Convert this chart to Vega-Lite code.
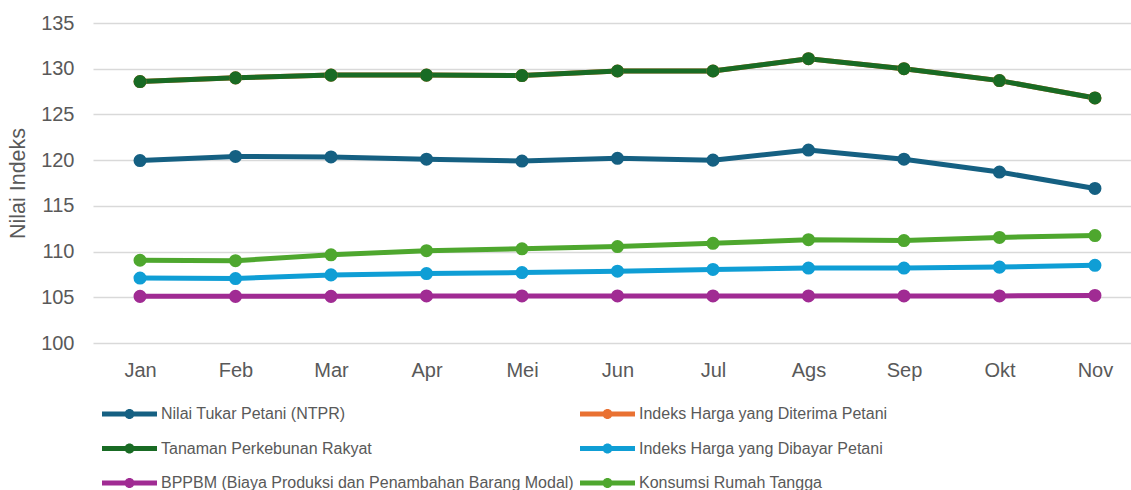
{
  "$schema": "https://vega.github.io/schema/vega-lite/v6.json",
  "width": 1038,
  "height": 320,
  "autosize": {"type": "none"},
  "padding": {"left": 93, "top": 23, "right": 0, "bottom": 147},
  "background": "white",
  "config": {
    "font": "Liberation Sans",
    "view": {"stroke": null}
  },
  "data": {
    "values": [
      {"Bulan": "Jan", "Nilai Tukar Petani (NTPR)": 119.95, "Indeks Harga yang Diterima Petani": 128.6, "Tanaman Perkebunan Rakyat": 128.6, "Indeks Harga yang Dibayar Petani": 107.1, "BPPBM (Biaya Produksi dan Penambahan Barang Modal)": 105.1, "Konsumsi Rumah Tangga": 109.05},
      {"Bulan": "Feb", "Nilai Tukar Petani (NTPR)": 120.4, "Indeks Harga yang Diterima Petani": 129.0, "Tanaman Perkebunan Rakyat": 129.0, "Indeks Harga yang Dibayar Petani": 107.05, "BPPBM (Biaya Produksi dan Penambahan Barang Modal)": 105.1, "Konsumsi Rumah Tangga": 109.0},
      {"Bulan": "Mar", "Nilai Tukar Petani (NTPR)": 120.35, "Indeks Harga yang Diterima Petani": 129.3, "Tanaman Perkebunan Rakyat": 129.3, "Indeks Harga yang Dibayar Petani": 107.45, "BPPBM (Biaya Produksi dan Penambahan Barang Modal)": 105.1, "Konsumsi Rumah Tangga": 109.65},
      {"Bulan": "Apr", "Nilai Tukar Petani (NTPR)": 120.1, "Indeks Harga yang Diterima Petani": 129.3, "Tanaman Perkebunan Rakyat": 129.3, "Indeks Harga yang Dibayar Petani": 107.6, "BPPBM (Biaya Produksi dan Penambahan Barang Modal)": 105.15, "Konsumsi Rumah Tangga": 110.1},
      {"Bulan": "Mei", "Nilai Tukar Petani (NTPR)": 119.9, "Indeks Harga yang Diterima Petani": 129.25, "Tanaman Perkebunan Rakyat": 129.25, "Indeks Harga yang Dibayar Petani": 107.7, "BPPBM (Biaya Produksi dan Penambahan Barang Modal)": 105.15, "Konsumsi Rumah Tangga": 110.3},
      {"Bulan": "Jun", "Nilai Tukar Petani (NTPR)": 120.2, "Indeks Harga yang Diterima Petani": 129.75, "Tanaman Perkebunan Rakyat": 129.75, "Indeks Harga yang Dibayar Petani": 107.85, "BPPBM (Biaya Produksi dan Penambahan Barang Modal)": 105.15, "Konsumsi Rumah Tangga": 110.55},
      {"Bulan": "Jul", "Nilai Tukar Petani (NTPR)": 120.0, "Indeks Harga yang Diterima Petani": 129.75, "Tanaman Perkebunan Rakyat": 129.75, "Indeks Harga yang Dibayar Petani": 108.05, "BPPBM (Biaya Produksi dan Penambahan Barang Modal)": 105.15, "Konsumsi Rumah Tangga": 110.9},
      {"Bulan": "Ags", "Nilai Tukar Petani (NTPR)": 121.1, "Indeks Harga yang Diterima Petani": 131.1, "Tanaman Perkebunan Rakyat": 131.1, "Indeks Harga yang Dibayar Petani": 108.2, "BPPBM (Biaya Produksi dan Penambahan Barang Modal)": 105.15, "Konsumsi Rumah Tangga": 111.3},
      {"Bulan": "Sep", "Nilai Tukar Petani (NTPR)": 120.1, "Indeks Harga yang Diterima Petani": 130.0, "Tanaman Perkebunan Rakyat": 130.0, "Indeks Harga yang Dibayar Petani": 108.2, "BPPBM (Biaya Produksi dan Penambahan Barang Modal)": 105.15, "Konsumsi Rumah Tangga": 111.2},
      {"Bulan": "Okt", "Nilai Tukar Petani (NTPR)": 118.7, "Indeks Harga yang Diterima Petani": 128.7, "Tanaman Perkebunan Rakyat": 128.7, "Indeks Harga yang Dibayar Petani": 108.3, "BPPBM (Biaya Produksi dan Penambahan Barang Modal)": 105.15, "Konsumsi Rumah Tangga": 111.55},
      {"Bulan": "Nov", "Nilai Tukar Petani (NTPR)": 116.9, "Indeks Harga yang Diterima Petani": 126.8, "Tanaman Perkebunan Rakyat": 126.8, "Indeks Harga yang Dibayar Petani": 108.5, "BPPBM (Biaya Produksi dan Penambahan Barang Modal)": 105.2, "Konsumsi Rumah Tangga": 111.75}
    ]
  },
  "transform": [
    {"fold": ["Nilai Tukar Petani (NTPR)", "Indeks Harga yang Diterima Petani", "Tanaman Perkebunan Rakyat", "Indeks Harga yang Dibayar Petani", "BPPBM (Biaya Produksi dan Penambahan Barang Modal)", "Konsumsi Rumah Tangga"], "as": ["Seri", "Nilai"]}
  ],
  "mark": {"type": "line", "strokeWidth": 5, "point": {"filled": true, "size": 170, "opacity": 1}},
  "encoding": {
    "x": {
      "field": "Bulan",
      "type": "ordinal",
      "sort": ["Jan", "Feb", "Mar", "Apr", "Mei", "Jun", "Jul", "Ags", "Sep", "Okt", "Nov"],
      "scale": {"type": "point", "padding": 0.435, "align": 0.566},
      "axis": {"title": null, "labelAngle": 0, "labelFontSize": 20, "labelColor": "#595959", "ticks": false, "domain": false, "labelPadding": 17, "grid": false}
    },
    "y": {
      "field": "Nilai",
      "type": "quantitative",
      "scale": {"domain": [100, 135], "nice": false, "zero": false},
      "axis": {"title": "Nilai Indeks", "titleFontSize": 21.5, "titleFontWeight": "normal", "titleColor": "#595959", "titlePadding": 11, "labelFontSize": 20, "labelColor": "#595959", "ticks": false, "domain": false, "labelPadding": 19, "values": [100, 105, 110, 115, 120, 125, 130, 135], "gridColor": "#d9d9d9", "gridWidth": 1.5}
    },
    "color": {
      "field": "Seri",
      "type": "nominal",
      "sort": ["Nilai Tukar Petani (NTPR)", "Indeks Harga yang Diterima Petani", "Tanaman Perkebunan Rakyat", "Indeks Harga yang Dibayar Petani", "BPPBM (Biaya Produksi dan Penambahan Barang Modal)", "Konsumsi Rumah Tangga"],
      "scale": {
        "domain": ["Nilai Tukar Petani (NTPR)", "Indeks Harga yang Diterima Petani", "Tanaman Perkebunan Rakyat", "Indeks Harga yang Dibayar Petani", "BPPBM (Biaya Produksi dan Penambahan Barang Modal)", "Konsumsi Rumah Tangga"],
        "range": ["#156082", "#E97132", "#196B24", "#0F9ED5", "#A02B93", "#4EA72E"]
      },
      "legend": {
        "title": null,
        "orient": "bottom",
        "direction": "horizontal",
        "columns": 2,
        "labelFontSize": 16,
        "labelColor": "#595959",
        "labelLimit": 600,
        "labelOffset": 29,
        "columnPadding": 6,
        "rowPadding": 11.5,
        "offset": 10,
        "padding": 9,
        "symbolSize": 900,
        "symbolStrokeWidth": 0,
        "symbolType": "M-1,-0.167H2.667V0.167H-1Z M0.5,0 A0.333,0.333 0 1 1 1.167,0 A0.333,0.333 0 1 1 0.5,0 Z",
        "encode": {
          "symbols": {"update": {"fill": {"scale": "color", "field": "value"}, "opacity": {"value": 1}}}
        }
      }
    }
  }
}
